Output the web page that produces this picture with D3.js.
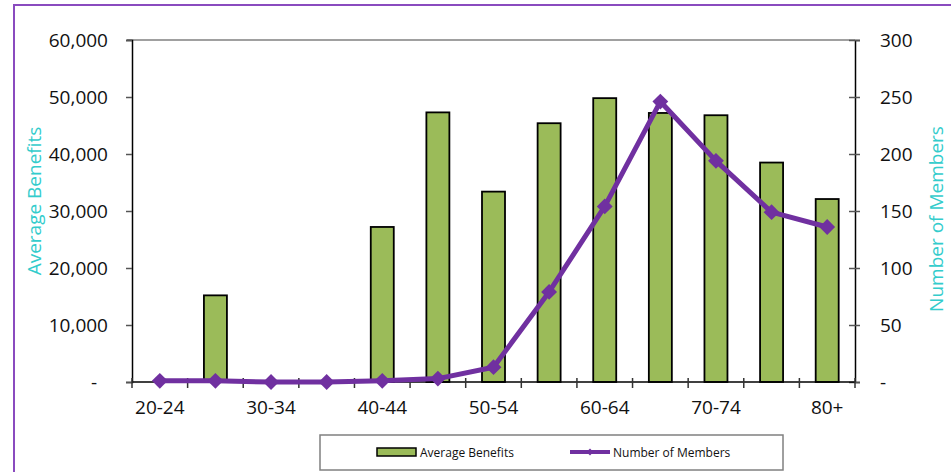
<!DOCTYPE html>
<html>
<head>
<meta charset="utf-8">
<script src="https://cdn.jsdelivr.net/npm/d3@7"></script>
<style>
  html, body { margin: 0; padding: 0; background: #ffffff; }
  svg { display: block; font-family: "Open Sans", "Lato", sans-serif; }
</style>
</head>
<body>
<svg id="chart" width="951" height="472"></svg>
<script>
// Age bands along the x axis
const ageBands = ["20-24", "25-29", "30-34", "35-39", "40-44", "45-49", "50-54",
                  "55-59", "60-64", "65-69", "70-74", "75-79", "80+"];
// Average benefits per band (left axis)
const averageBenefits = [0, 15200, 0, 0, 27200, 47300, 33400, 45400, 49800, 47200, 46800, 38500, 32100];
// Number of members per band (right axis)
const numberOfMembers = [1, 1, 0, 0, 1, 3, 13, 79, 154, 246, 194, 149, 136];
// Tick values for the two value axes
const leftTicks = [0, 10000, 20000, 30000, 40000, 50000, 60000];
const rightTicks = [0, 50, 100, 150, 200, 250, 300];
// Bands that carry a text label
const labelledBands = ["20-24", "30-34", "40-44", "50-54", "60-64", "70-74", "80+"];

const svg = d3.select("#chart");
const purple = "#7030A0";
const green = "#9BBB59";
const teal = "#33CCCC";
const tickFont = 19;

const plot = { left: 132, right: 855, top: 40, bottom: 382 };

// Outer frame
svg.append("rect")
  .attr("x", 14).attr("y", 5).attr("width", 960).attr("height", 500)
  .attr("fill", "none").attr("stroke", "#8a4bbf").attr("stroke-width", 2);

const x = d3.scaleBand().domain(ageBands).range([plot.left, plot.right]).paddingInner(0).paddingOuter(0);
const yL = d3.scaleLinear().domain([0, 60000]).range([plot.bottom, plot.top]);
const yR = d3.scaleLinear().domain([0, 300]).range([plot.bottom, plot.top]);

const fmtL = v => v === 0 ? "-" : d3.format(",")(v);
const fmtR = v => v === 0 ? "-" : String(v);

// Top border of the plot area
svg.append("line")
  .attr("x1", plot.left - 5).attr("x2", plot.right)
  .attr("y1", plot.top).attr("y2", plot.top)
  .attr("stroke", "#808080").attr("stroke-width", 1.5);

// Left axis
const gL = svg.append("g").attr("transform", `translate(${plot.left},0)`)
  .call(d3.axisLeft(yL).tickValues(leftTicks).tickFormat(fmtL).tickSize(6).tickPadding(18));
gL.select(".domain").attr("stroke", "#000").attr("stroke-width", 1.5);
gL.selectAll(".tick line").attr("stroke", "#555").attr("stroke-width", 1.5);
gL.selectAll(".tick text").attr("font-size", tickFont).attr("fill", "#111")
  .attr("font-family", "'Open Sans', sans-serif");
// the zero dash sits a little further in, as in accounting format
gL.selectAll(".tick text").filter(d => d === 0).attr("dx", -11);

// Right axis
const gR = svg.append("g").attr("transform", `translate(${plot.right},0)`)
  .call(d3.axisRight(yR).tickValues(rightTicks).tickFormat(fmtR).tickSize(5).tickPadding(20));
gR.select(".domain").attr("stroke", "#000").attr("stroke-width", 1.5);
gR.selectAll(".tick line").attr("x1", -6).attr("stroke", "#555").attr("stroke-width", 1.5);
gR.selectAll(".tick text").attr("font-size", tickFont).attr("fill", "#111")
  .attr("font-family", "'Open Sans', sans-serif");

// Bars
const barW = 23;
svg.append("g").selectAll("rect")
  .data(ageBands.map((b, i) => ({ band: b, v: averageBenefits[i] })).filter(d => d.v > 0))
  .join("rect")
  .attr("x", d => x(d.band) + x.bandwidth() / 2 - barW / 2)
  .attr("y", d => yL(d.v))
  .attr("width", barW)
  .attr("height", d => yL(0) - yL(d.v))
  .attr("fill", green)
  .attr("stroke", "#000")
  .attr("stroke-width", 1.8);

// Bottom axis, ticks at band boundaries
const gB = svg.append("g");
gB.append("line")
  .attr("x1", plot.left).attr("x2", plot.right)
  .attr("y1", plot.bottom).attr("y2", plot.bottom)
  .attr("stroke", "#000").attr("stroke-width", 1.5);
const bounds = ageBands.map(b => x(b)).concat([plot.right]);
gB.selectAll("line.tk").data(bounds).join("line").attr("class", "tk")
  .attr("x1", d => d).attr("x2", d => d)
  .attr("y1", plot.bottom - 4).attr("y2", plot.bottom + 6)
  .attr("stroke", "#333").attr("stroke-width", 1.5);
gB.selectAll("text").data(labelledBands).join("text")
  .attr("x", d => x(d) + x.bandwidth() / 2)
  .attr("y", 414)
  .attr("text-anchor", "middle")
  .attr("font-size", tickFont).attr("fill", "#111")
  .text(d => d);

// Member count line
const pts = ageBands.map((b, i) => [x(b) + x.bandwidth() / 2, yR(numberOfMembers[i])]);
svg.append("path")
  .attr("d", d3.line()(pts))
  .attr("fill", "none").attr("stroke", purple).attr("stroke-width", 5)
  .attr("stroke-linejoin", "round");
const diamond = d3.symbol().type(d3.symbolDiamond2).size(160);
svg.append("g").selectAll("path").data(pts).join("path")
  .attr("transform", d => `translate(${d[0]},${d[1]})`)
  .attr("d", diamond)
  .attr("fill", purple);

// Axis titles
svg.append("text")
  .attr("transform", "translate(41,201) rotate(-90)")
  .attr("text-anchor", "middle")
  .attr("font-size", 19).attr("fill", teal)
  .text("Average Benefits");
svg.append("text")
  .attr("transform", "translate(943,219) rotate(-90)")
  .attr("text-anchor", "middle")
  .attr("font-size", 19).attr("fill", teal)
  .text("Number of Members");

// Legend
const lg = svg.append("g");
lg.append("rect")
  .attr("x", 320).attr("y", 435).attr("width", 463).attr("height", 35)
  .attr("fill", "#fff").attr("stroke", "#808080").attr("stroke-width", 1.5);
lg.append("rect")
  .attr("x", 377).attr("y", 448).attr("width", 39).attr("height", 8)
  .attr("fill", green).attr("stroke", "#000").attr("stroke-width", 1.5);
lg.append("text")
  .attr("x", 420).attr("y", 457)
  .attr("font-size", 12).attr("fill", "#111")
  .text("Average Benefits");
lg.append("line")
  .attr("x1", 570).attr("x2", 610).attr("y1", 452).attr("y2", 452)
  .attr("stroke", purple).attr("stroke-width", 4);
lg.append("path")
  .attr("transform", "translate(590,452)")
  .attr("d", d3.symbol().type(d3.symbolDiamond2).size(30))
  .attr("fill", purple);
lg.append("text")
  .attr("x", 613).attr("y", 457)
  .attr("font-size", 12).attr("fill", "#111")
  .text("Number of Members");
</script>
</body>
</html>
